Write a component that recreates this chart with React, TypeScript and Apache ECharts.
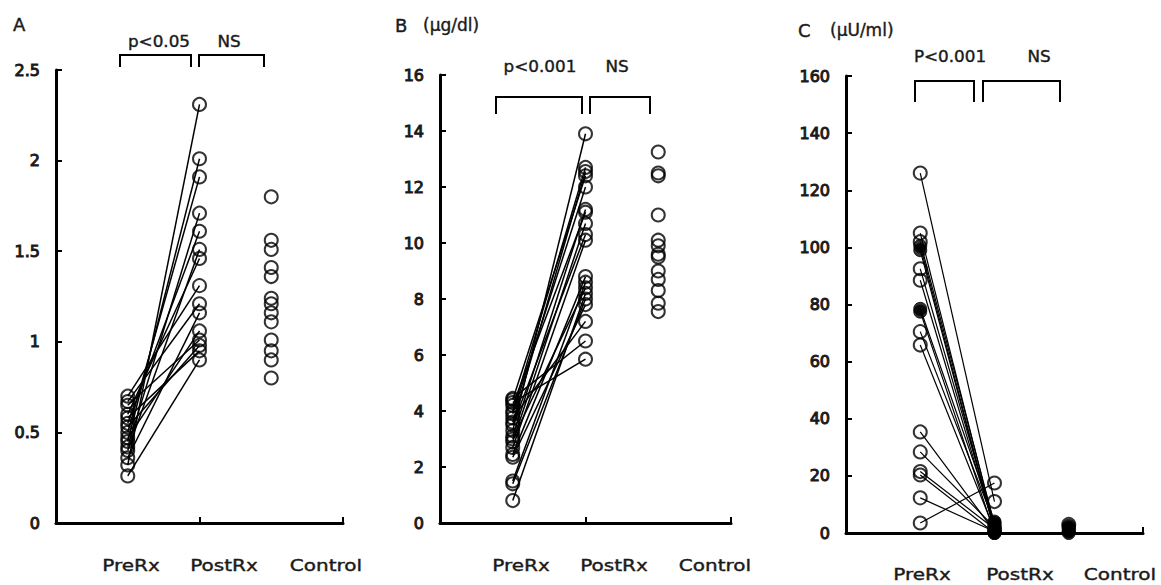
import React, { useEffect, useRef } from 'react';
import * as echarts from 'echarts';

// Panel A (no unit)
const preA = [0.32, 0.45, 0.5, 0.42, 0.55, 0.4, 0.6, 0.7, 0.67, 0.36, 0.47, 0.65, 0.58, 0.26, 0.53];
const postA = [2.31, 2.01, 1.91, 1.71, 1.61, 1.51, 1.46, 1.31, 1.21, 1.16, 1.06, 1.01, 0.95, 0.9, 0.98];
const controlA = [1.8, 1.56, 1.51, 1.41, 1.36, 1.24, 1.21, 1.16, 1.11, 1.01, 0.95, 0.9, 0.8];

// Panel B (µg/dl)
const preB = [3.3, 4.0, 3.6, 4.4, 3.9, 3.1, 4.2, 2.9, 3.5, 2.7, 2.45, 1.5, 3.0, 0.8, 1.4, 2.35, 3.75, 4.45, 4.3];
const postB = [13.9, 12.7, 12.55, 12.4, 12.0, 11.2, 11.1, 10.7, 10.3, 10.1, 8.8, 8.6, 8.4, 8.2, 8.0, 7.8, 7.2, 6.5, 5.85];
const controlB = [13.25, 12.5, 12.4, 11.0, 10.1, 9.9, 9.6, 9.5, 9.0, 8.7, 8.3, 7.85, 7.55];

// Panel C (µU/ml)
const preC = [126, 105, 102, 100.5, 99, 92.5, 88.5, 78.5, 77.5, 70.5, 65.8, 35.4, 28.4, 21.5, 20.3, 12.3, 3.5];
const postC = [11, 2, 3, 1, 0.5, 2.5, 1.5, 4, 0, 3.5, 1, 0.5, 2, 1.5, 0, 0.5, 17.5];
const controlC = [0, 0.5, 1, 1.5, 2, 2.5, 3];

// indices of PreRx markers drawn solid in panel C
const solidPreC = [3, 4, 7, 8];
const SOLID_LIMIT_C = 4.5;

const categories = ['PreRx', 'PostRx', 'Control'];
const yAxisA = { min: 0, max: 2.5, interval: 0.5 };
const yAxisB = { min: 0, max: 16, interval: 2 };
const yAxisC = { min: 0, max: 160, interval: 20 };

const X_PRE = 1;
const X_POST = 2;
const X_CTRL = 3;

const FONT = "'DejaVu Sans', 'Liberation Sans', sans-serif";
const INK = '#1a1a1a';

const grids = [
  { left: 56, top: 70, width: 287, height: 453 },
  { left: 440, top: 75, width: 291, height: 448 },
  { left: 846, top: 76, width: 297, height: 457 },
];

function buildPanel(
  idx: number,
  pre: number[],
  post: number[],
  control: number[],
  solidPre: number[],
  solidLimit: number | null,
  lineWidth: number
) {
  const series: any[] = [];
  pre.forEach((p, k) => {
    series.push({
      type: 'line',
      xAxisIndex: idx,
      yAxisIndex: idx,
      data: [
        [X_PRE, p],
        [X_POST, post[k]],
      ],
      symbol: 'none',
      silent: true,
      lineStyle: { color: '#000', width: lineWidth },
      z: 1,
    });
  });
  const openPts: number[][] = [];
  const solidPts: number[][] = [];
  pre.forEach((p, k) => {
    (solidPre.includes(k) ? solidPts : openPts).push([X_PRE, p]);
  });
  post.forEach((p) => {
    (solidLimit !== null && p <= solidLimit ? solidPts : openPts).push([X_POST, p]);
  });
  control.forEach((p) => {
    (solidLimit !== null && p <= solidLimit - 2 ? solidPts : openPts).push([X_CTRL, p]);
  });
  series.push({
    type: 'scatter',
    xAxisIndex: idx,
    yAxisIndex: idx,
    data: openPts,
    symbol: 'circle',
    symbolSize: 13,
    silent: true,
    itemStyle: { color: 'rgba(255,255,255,0)', borderColor: '#000', borderWidth: 2 },
    z: 3,
  });
  if (solidPts.length) {
    series.push({
      type: 'scatter',
      xAxisIndex: idx,
      yAxisIndex: idx,
      data: solidPts,
      symbol: 'circle',
      symbolSize: 13,
      silent: true,
      itemStyle: { color: '#000', borderColor: '#000', borderWidth: 1 },
      z: 4,
    });
  }
  return series;
}

function xAxis(idx: number) {
  return {
    type: 'value',
    gridIndex: idx,
    min: 0,
    max: 4,
    interval: 2,
    axisLine: { show: true, lineStyle: { color: '#000', width: 3 } },
    axisTick: { show: true, inside: true, length: 6, lineStyle: { color: '#000', width: 2 } },
    axisLabel: { show: false },
    splitLine: { show: false },
  };
}

function yAxis(idx: number, cfg: { min: number; max: number; interval: number }) {
  return {
    type: 'value',
    gridIndex: idx,
    min: cfg.min,
    max: cfg.max,
    interval: cfg.interval,
    axisLine: { show: true, onZero: false, lineStyle: { color: '#000', width: 3 } },
    axisTick: { show: true, inside: true, length: 6, lineStyle: { color: '#000', width: 2 } },
    axisLabel: {
      margin: 16,
      fontSize: 16,
      fontFamily: FONT,
      color: INK,
      textBorderColor: INK,
      textBorderWidth: 1,
    },
    splitLine: { show: false },
  };
}

function txt(text: string, x: number, y: number, size: number, align = 'center', scaleX = 1) {
  return {
    type: 'text',
    x,
    y,
    scaleX,
    silent: true,
    style: {
      text,
      fill: INK,
      stroke: INK,
      lineWidth: 0.4,
      font: `${size}px ${FONT}`,
      textAlign: align,
      align,
      textVerticalAlign: 'middle',
      verticalAlign: 'middle',
    },
  };
}

function bracket(x1: number, x2: number, top: number, bottom: number) {
  return {
    type: 'polyline',
    silent: true,
    shape: {
      points: [
        [x1, bottom],
        [x1, top],
        [x2, top],
        [x2, bottom],
      ],
    },
    style: { stroke: '#000', lineWidth: 2, fill: null },
  };
}

const catLabelPos = [
  { xs: [131, 224, 326], y: 565 },
  { xs: [521, 614, 715], y: 565 },
  { xs: [922, 1020, 1120], y: 574 },
];

export default function App() {
  const ref = useRef<HTMLDivElement>(null);
  useEffect(() => {
    if (!ref.current) return;
    const chart = echarts.init(ref.current, undefined, { renderer: 'svg' });
    const graphic: any[] = [
      txt('A', 13, 24, 18, 'left'),
      txt('B', 395, 25, 18, 'left'),
      txt('(μg/dl)', 423, 25, 17, 'left'),
      txt('C', 798, 30, 18, 'left'),
      txt('(μU/ml)', 830, 30, 17, 'left'),
      txt('p<0.05', 159, 42, 16, 'center', 1.05),
      txt('NS', 229, 42, 16, 'center', 1.05),
      txt('p<0.001', 540, 67, 16, 'center', 1.05),
      txt('NS', 617, 67, 16, 'center', 1.05),
      txt('P<0.001', 950, 57, 16, 'center', 1.05),
      txt('NS', 1039, 57, 16, 'center', 1.05),
      bracket(120, 191, 55, 67),
      bracket(199, 264, 55, 67),
      bracket(496, 582, 97, 114),
      bracket(590, 650, 97, 114),
      bracket(915, 974, 81, 102),
      bracket(983, 1060, 81, 102),
    ];
    catLabelPos.forEach((p) => {
      categories.forEach((c, i) => {
        graphic.push(txt(c, p.xs[i], p.y, 16, 'center', 1.25));
      });
    });
    chart.setOption({
      animation: false,
      backgroundColor: '#fff',
      grid: grids,
      xAxis: [xAxis(0), xAxis(1), xAxis(2)],
      yAxis: [yAxis(0, yAxisA), yAxis(1, yAxisB), yAxis(2, yAxisC)],
      series: [
        ...buildPanel(0, preA, postA, controlA, [], null, 1.5),
        ...buildPanel(1, preB, postB, controlB, [], null, 1.5),
        ...buildPanel(2, preC, postC, controlC, solidPreC, SOLID_LIMIT_C, 1.2),
      ],
      graphic,
    });
    return () => chart.dispose();
  }, []);
  return (
    <div
      ref={ref}
      style={{ position: 'absolute', left: 0, top: 0, width: 1161, height: 585 }}
    />
  );
}
